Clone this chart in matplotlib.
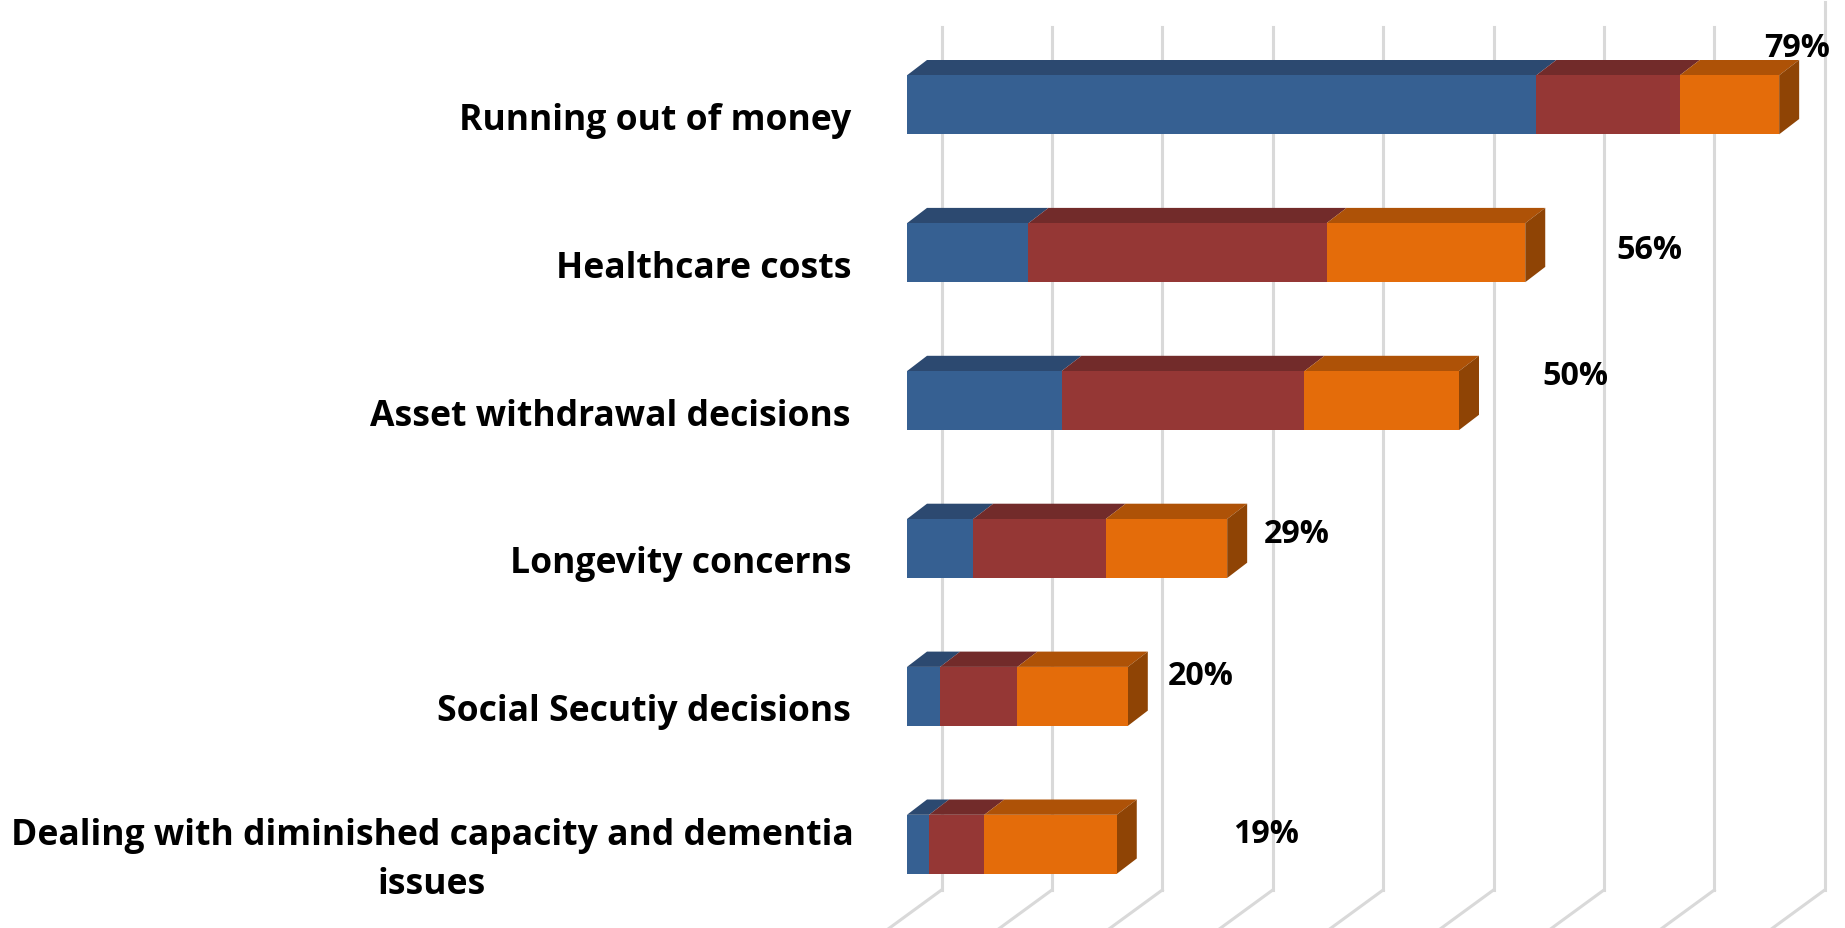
import matplotlib
matplotlib.use("Agg")
import matplotlib.pyplot as plt
from matplotlib.patches import Polygon

categories = [
    "Running out of money",
    "Healthcare costs",
    "Asset withdrawal decisions",
    "Longevity concerns",
    "Social Secutiy decisions",
    "Dealing with diminished capacity and dementia\nissues",
]
blue_values = [57, 11, 14, 6, 3, 2]
red_values = [13, 27, 22, 12, 7, 5]
orange_values = [9, 18, 14, 11, 10, 12]
total_labels = ["79%", "56%", "50%", "29%", "20%", "19%"]
grid_ticks = [0, 10, 20, 30, 40, 50, 60, 70, 80]

W, H = 1845, 929
PX_PER_PCT = 11.04
PX_PER_ROW = 147.9
ZERO_PX = 907
ROW0_PX = 105.8
BAR_H = 59 / PX_PER_ROW
DX = 20 / PX_PER_PCT
DY = 15.3 / PX_PER_ROW

# x offset of the back wall relative to the front of the bars
WALL_X = 34.5 / PX_PER_PCT

# (face, top) for each stacked series, side is only seen on the last one
colors = [
    ("#366092", "#2c4970"),
    ("#953735", "#722b2a"),
    ("#e46c0a", "#ae5207"),
]
side_col = "#8f4405"
grid_col = "#d9d9d9"


def row_y(px):
    return (px - ROW0_PX) / PX_PER_ROW


def pct_x(px):
    return (px - ZERO_PX) / PX_PER_PCT


fig = plt.figure(figsize=(W / 100, H / 100), dpi=100)
ax = fig.add_axes([0, 0, 1, 1])
ax.set_xlim(pct_x(0), pct_x(W))
ax.set_ylim(row_y(H), row_y(0))
ax.axis("off")

# back wall lines, then the floor lines running off the bottom edge
top_y = row_y(28)
floor_y = row_y(891)
end_y = row_y(950)
floor_run = (950 - 891) * (52 / 38) / PX_PER_PCT
for t in grid_ticks:
    x = t + WALL_X
    y0 = row_y(3) if t == grid_ticks[-1] else top_y
    ax.plot([x, x], [y0, floor_y], color=grid_col, lw=2.2, zorder=1)
    ax.plot([x, x - floor_run], [floor_y, end_y], color=grid_col, lw=2.2, zorder=1)

for i, cat in enumerate(categories):
    left = 0
    stack = [blue_values[i], red_values[i], orange_values[i]]
    yt = i - BAR_H / 2
    yb = i + BAR_H / 2
    for val, (face, top) in zip(stack, colors):
        ax.barh(i, val, left=left, height=BAR_H, color=face, lw=0, zorder=3)
        ax.add_patch(Polygon([(left, yt), (left + DX, yt - DY), (left + val + DX, yt - DY), (left + val, yt)],
                             closed=True, fc=top, lw=0, zorder=2.5))
        left += val
    ax.add_patch(Polygon([(left, yt), (left + DX, yt - DY), (left + DX, yb - DY), (left, yb)],
                         closed=True, fc=side_col, lw=0, zorder=2.5))
    # the wrapped label is centred on its own block, the rest hug the axis
    if "\n" in cat:
        tx, ha = pct_x(432), "center"
    else:
        tx, ha = pct_x(851), "right"
    ax.text(tx, i + 15 / PX_PER_ROW, cat, ha=ha, va="center", fontsize=25.6, fontweight="bold",
            family="Open Sans", color="black", linespacing=1.47)

# totals sit at hand-placed spots beside the bars
total_x = [1797, 1649, 1575, 1297, 1201, 1266]
total_y = [48.5, 250.5, 376.5, 534.5, 676.5, 834.5]
for lab, px, py in zip(total_labels, total_x, total_y):
    ax.text(pct_x(px), row_y(py), lab, ha="center", va="center", fontsize=23.2, fontweight="bold",
            family="Open Sans", color="black", zorder=5)

fig.savefig("out.png", dpi=100, facecolor="white")
